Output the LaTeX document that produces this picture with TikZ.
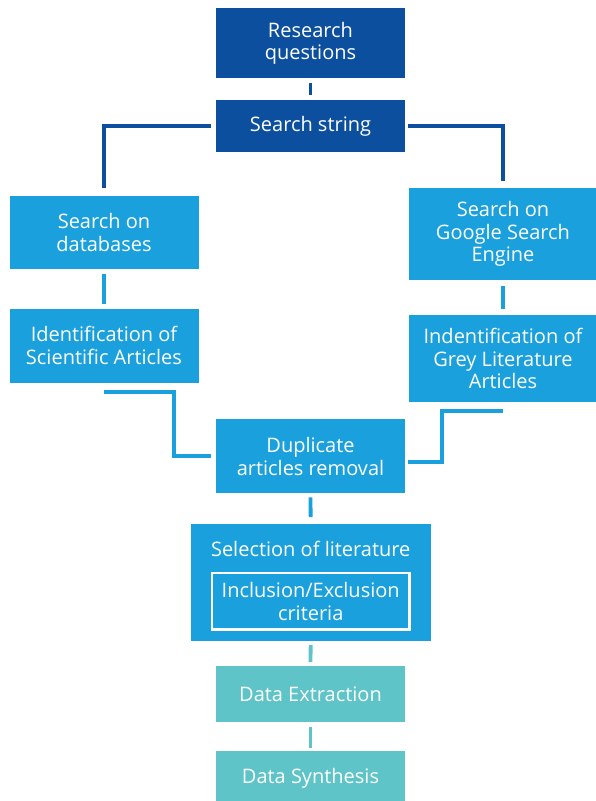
\documentclass[tikz,border=0pt]{standalone}
\usepackage{fontspec}
\setmainfont{Open Sans}
\begin{document}
\definecolor{navy}{HTML}{0B4F9E}
\definecolor{sky}{HTML}{1AA0DC}
\definecolor{aqua}{HTML}{5EC4C8}
\begin{tikzpicture}[x=1pt,y=-1pt,
  box/.style={rectangle, fill=#1, text=white, inner sep=0pt, outer sep=0pt,
    align=center, minimum width=189pt, font=\fontsize{20}{22.5}\selectfont},
  conn/.style={draw=#1, line width=3.8pt},
  title/.style={text=white, inner sep=0pt, align=center, font=\fontsize{20}{22.5}\selectfont}]
\useasboundingbox (0,0) rectangle (596,801);

% top of the workflow
\node[box=navy, minimum height=70pt] (rq) at (310.5,43.3) {Research\\questions};
\node[box=navy, minimum height=52pt] (ss) at (310.5,126) {Search string};

% two search branches
\node[box=sky, minimum height=73pt] (db) at (104,232.4) {Search on\\databases};
\node[box=sky, minimum height=92pt] (gs) at (503,234) {Search on\\Google Search\\Engine};
\node[box=sky, minimum height=74pt] (sa) at (104,345.5) {Identification of\\Scientific Articles};
\node[box=sky, minimum height=87pt] (gl) at (503,358.5) {Indentification of\\Grey Literature\\Articles};

% merging and screening
\node[box=sky, minimum height=74pt] (dup) at (310.5,456.3) {Duplicate\\articles removal};
\node[box=sky, minimum width=240pt, minimum height=117pt] (sel) at (310.7,582.5) {};
\node[title] (seltitle) at (310.7,549) {Selection of literature};
\node[rectangle, draw=white, line width=2.7pt, fill=sky, text=white, inner sep=0pt,
  outer sep=0pt, align=center, minimum width=197.3pt, minimum height=56.6pt,
  font=\fontsize{20}{22.5}\selectfont] (crit) at (310.7,601.3) {Inclusion/Exclusion\\criteria};

% data steps
\node[box=aqua, minimum height=55.7pt] (de) at (310.5,694) {Data Extraction};
\node[box=aqua, minimum height=55pt] (ds) at (310.5,778.5) {Data Synthesis};

% connectors
\draw[conn=navy, shorten <=5pt, shorten >=5pt] (rq.south) -- (ss.north);
\draw[conn=navy, shorten <=5pt, shorten >=7.7pt] (ss.west) -| (db.north);
\draw[conn=navy, shorten <=3pt, shorten >=6.6pt] (ss.east) -| (gs.north);
\draw[conn=sky, shorten <=5pt, shorten >=5pt] (db.south) -- (sa.north);
\draw[conn=sky, shorten <=6pt, shorten >=6pt] (gs.south) -- (gl.north);
\draw[conn=sky] ([yshift=-9.3pt]sa.south) -- ++(69.7,0) |- ([xshift=-5pt]dup.west);
\draw[conn=sky] ([yshift=-8.7pt]gl.south) -- ++(-61,0) |- ([xshift=3pt,yshift=-5.4pt]dup.east);
\draw[conn=sky, shorten <=4pt, shorten >=7pt] (dup.south) -- (sel.north);
\draw[conn=aqua, shorten <=4pt, shorten >=4pt] (sel.south) -- (de.north);
\draw[conn=aqua, shorten <=5pt, shorten >=3.3pt] (de.south) -- (ds.north);
\end{tikzpicture}
\end{document}
